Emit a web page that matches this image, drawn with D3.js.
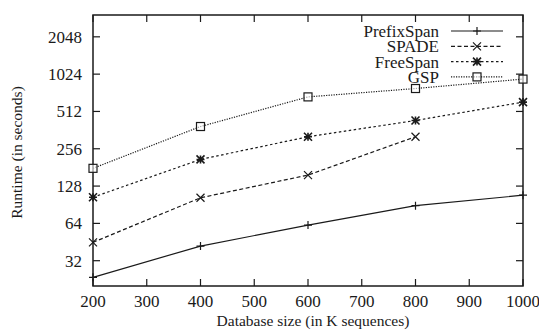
<!DOCTYPE html>
<html>
<head>
<meta charset="utf-8">
<script src="https://cdn.jsdelivr.net/npm/d3@7"></script>
<style>
  body { margin: 0; background: #fff; }
  svg text { font-family: "Liberation Serif", "Times New Roman", "DejaVu Serif", serif; }
</style>
</head>
<body>
<svg id="chart" width="539" height="333"></svg>
<script>
const sizes = [200, 400, 600, 800, 1000];
const seriesNames = ['PrefixSpan', 'SPADE', 'FreeSpan', 'GSP'];
const prefixSpan = [23.5, 42, 62, 89, 108];
const spade = [45, 103, 157, 320];
const freeSpan = [104, 210, 320, 433, 609];
const gsp = [178, 387, 671, 784, 934];
const xTicks = [200, 300, 400, 500, 600, 700, 800, 900, 1000];
const yTicks = [32, 64, 128, 256, 512, 1024, 2048];

const series = [
    { name: seriesNames[0], values: prefixSpan, dash: null, marker: 'plus' },
    { name: seriesNames[1], values: spade, dash: '4,2.5', marker: 'cross' },
    { name: seriesNames[2], values: freeSpan, dash: '2.5,2.5', marker: 'star' },
    { name: seriesNames[3], values: gsp, dash: '1.2,1.3', marker: 'square' }
];

const svg = d3.select('#chart');
const margin = { top: 15, right: 16, bottom: 47, left: 93 };
const width = 539, height = 333;
const innerWidth = width - margin.left - margin.right;
const innerHeight = height - margin.top - margin.bottom;

const g = svg.append('g').attr('transform', `translate(${margin.left},${margin.top})`);

const x = d3.scaleLinear().domain([200, 1000]).range([0, innerWidth]);
const y = d3.scaleLog().base(2).domain([20, 3072]).range([innerHeight, 0]);

const ink = '#1a1a1a';

// mirrored inward ticks on all four sides
const tick = 7;
xTicks.forEach(t => {
    g.append('line').attr('x1', x(t)).attr('x2', x(t)).attr('y1', innerHeight).attr('y2', innerHeight - tick)
        .attr('stroke', ink).attr('stroke-width', 1.2);
    g.append('line').attr('x1', x(t)).attr('x2', x(t)).attr('y1', 0).attr('y2', tick)
        .attr('stroke', ink).attr('stroke-width', 1.2);
});
yTicks.forEach(t => {
    g.append('line').attr('x1', 0).attr('x2', tick).attr('y1', y(t)).attr('y2', y(t))
        .attr('stroke', ink).attr('stroke-width', 1.2);
    g.append('line').attr('x1', innerWidth).attr('x2', innerWidth - tick).attr('y1', y(t)).attr('y2', y(t))
        .attr('stroke', ink).attr('stroke-width', 1.2);
});

g.selectAll('.xlab').data(xTicks).join('text')
    .attr('class', 'xlab')
    .attr('x', d => x(d)).attr('y', innerHeight + 21)
    .attr('text-anchor', 'middle').attr('font-size', '17px').attr('fill', ink)
    .text(d => d);

g.selectAll('.ylab').data(yTicks).join('text')
    .attr('class', 'ylab')
    .attr('x', -11).attr('y', d => y(d)).attr('dy', '0.35em')
    .attr('text-anchor', 'end').attr('font-size', '17px').attr('fill', ink)
    .text(d => d);

g.append('rect').attr('x', 0).attr('y', 0).attr('width', innerWidth).attr('height', innerHeight)
    .attr('fill', 'none').attr('stroke', ink).attr('stroke-width', 1.5);

svg.append('text').attr('x', margin.left + innerWidth / 2 + 5).attr('y', 326)
    .attr('text-anchor', 'middle').attr('font-size', '15.5px').attr('fill', ink)
    .text('Database size (in K sequences)');

svg.append('text').attr('transform', `translate(22,${margin.top + innerHeight / 2 + 2}) rotate(-90)`)
    .attr('text-anchor', 'middle').attr('font-size', '15.5px').attr('fill', ink)
    .text('Runtime (in seconds)');

function drawMarker(sel, type, cx, cy) {
    const s = 4;
    const m = sel.append('g').attr('transform', `translate(${cx},${cy})`)
        .attr('stroke', ink).attr('stroke-width', 1.2).attr('fill', 'none');
    if (type === 'plus') {
        m.append('path').attr('d', `M${-s},0H${s}M0,${-s}V${s}`);
    } else if (type === 'cross') {
        m.append('path').attr('d', `M${-s},${-s}L${s},${s}M${-s},${s}L${s},${-s}`);
    } else if (type === 'star') {
        m.append('path').attr('d', `M${-s},${-s}L${s},${s}M${-s},${s}L${s},${-s}M${-s},0H${s}M0,${-s}V${s}`)
            .attr('stroke-width', 1.6);
    } else {
        m.append('rect').attr('x', -s).attr('y', -s).attr('width', 2 * s).attr('height', 2 * s)
            .attr('fill', 'rgba(255,255,255,0.6)');
    }
}

const line = d3.line().x(d => x(d[0])).y(d => y(d[1]));

series.forEach(s => {
    const pts = s.values.map((v, i) => [sizes[i], v]);
    g.append('path').datum(pts).attr('d', line)
        .attr('fill', 'none').attr('stroke', ink).attr('stroke-width', 1.2)
        .attr('stroke-dasharray', s.dash);
    pts.forEach(p => drawMarker(g, s.marker, x(p[0]), y(p[1])));
});

// legend
const legend = svg.append('g');
series.forEach((s, i) => {
    const ly = 31 + i * 15.3;
    legend.append('text').attr('x', 439).attr('y', ly).attr('dy', '0.35em')
        .attr('text-anchor', 'end').attr('font-size', '17px').attr('fill', ink)
        .text(s.name);
    legend.append('line').attr('x1', 451).attr('x2', 503).attr('y1', ly).attr('y2', ly)
        .attr('stroke', ink).attr('stroke-width', 1.2).attr('stroke-dasharray', s.dash);
    drawMarker(legend, s.marker, 477, ly);
});
</script>
</body>
</html>
